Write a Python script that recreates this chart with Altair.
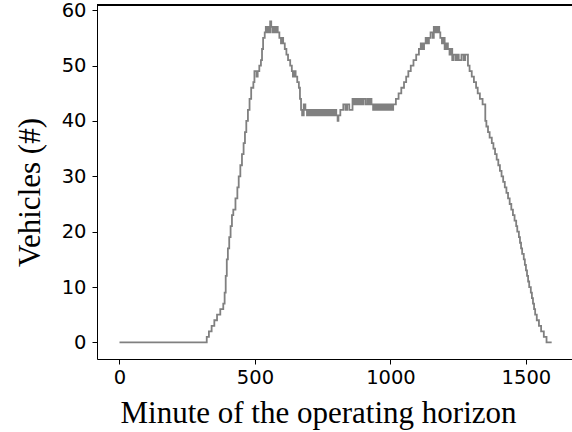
import altair as alt
import pandas as pd

# Minute at which the fleet count changes, and the count from that minute on
minutes = [
    0, 322, 330, 340, 350, 360, 372, 383, 388, 392, 396, 400, 405, 410, 415, 420,
    428, 435, 440, 446, 452, 458, 463, 468, 474, 480, 486, 494, 498, 506, 510, 516,
    522, 526, 530, 536, 540, 544, 548, 552, 556, 560, 564, 568, 574, 578, 584, 590,
    596, 600, 604, 610, 616, 622, 630, 636, 640, 646, 650, 656, 662, 666, 670, 674,
    680, 686, 692, 698, 704, 710, 716, 722, 728, 734, 740, 746, 752, 758, 764, 770,
    776, 782, 788, 794, 800, 805, 808, 815, 826, 834, 840, 848, 860, 864, 870, 876,
    880, 886, 890, 896, 900, 908, 915, 920, 925, 930, 936, 940, 946, 952, 958, 964,
    970, 976, 982, 988, 994, 1000, 1006, 1010, 1015, 1020, 1030, 1040, 1050, 1058,
    1066, 1075, 1085, 1095, 1105, 1112, 1118, 1124, 1130, 1136, 1142, 1148, 1156,
    1160, 1164, 1168, 1172, 1176, 1180, 1184, 1190, 1196, 1200, 1206, 1212, 1218,
    1224, 1228, 1232, 1240, 1246, 1252, 1256, 1262, 1270, 1276, 1280, 1286, 1292,
    1300, 1308, 1316, 1322, 1330, 1340, 1350, 1354, 1360, 1366, 1374, 1380, 1386,
    1392, 1398, 1404, 1410, 1416, 1422, 1428, 1434, 1440, 1446, 1452, 1458, 1464,
    1468, 1474, 1478, 1482, 1486, 1492, 1496, 1500, 1504, 1508, 1512, 1518, 1522,
    1526, 1530, 1534, 1540, 1548, 1556, 1566, 1576, 1595,
]
vehicles = [
    0, 1, 2, 3, 4, 5, 6, 7, 9, 12, 15, 17, 19, 21, 23, 24,
    26, 28, 30, 32, 34, 36, 38, 40, 42, 44, 46, 47, 49, 48, 49, 50,
    51, 53, 55, 56, 57, 56, 57, 56, 58, 57, 56, 57, 56, 57, 56, 55,
    54, 55, 54, 53, 52, 51, 50, 49, 48, 49, 48, 47, 46, 44, 42, 41,
    43, 42, 41, 42, 41, 42, 41, 42, 41, 42, 41, 42, 41, 42, 41, 42,
    41, 42, 41, 42, 41, 40, 41, 42, 43, 42, 43, 42, 44, 43, 44, 43,
    44, 43, 44, 43, 44, 43, 44, 43, 44, 43, 42, 43, 42, 43, 42, 43,
    42, 43, 42, 43, 42, 43, 42, 43, 43, 44, 45, 46, 47, 48,
    49, 50, 51, 52, 53, 54, 53, 54, 55, 54, 55, 56, 55,
    57, 56, 57, 56, 57, 56, 55, 54, 55, 53, 54, 53, 52,
    53, 51, 52, 51, 52, 51, 51, 52, 51, 52, 52, 50, 49,
    48, 47, 46, 45, 44, 43, 40, 39, 38, 37, 36, 35, 34,
    33, 32, 31, 30, 29, 28, 27, 26, 25, 24, 23, 22, 21,
    20, 19, 18, 17, 16, 15, 14, 13, 12, 11, 10, 9, 8,
    7, 6, 5, 4, 3, 2, 1, 0, 0,
]

x_ticks = [0, 500, 1000, 1500]
y_ticks = [0, 10, 20, 30, 40, 50, 60]

W, H = 475, 354

df = pd.DataFrame({"minute": minutes, "vehicles": vehicles})

x_enc = alt.X(
    "minute:Q",
    scale=alt.Scale(domain=[-83, 1670], nice=False, zero=False),
    axis=alt.Axis(
        values=x_ticks,
        format="d",
        title="Minute of the operating horizon",
        titleFont="Liberation Serif",
        titleFontSize=31,
        titleFontWeight="normal",
        titleColor="black",
        titleX=221,
        titleY=63,
        titleAlign="center",
        titleBaseline="alphabetic",
        labelFont="DejaVu Sans",
        labelFontSize=19.5,
        labelColor="black",
        labelPadding=4,
        tickSize=5,
        tickColor="black",
        domainColor="black",
        grid=False,
        labelFlush=False,
    ),
)

y_enc = alt.Y(
    "vehicles:Q",
    scale=alt.Scale(domain=[-3.0, 60.95], nice=False, zero=False),
    axis=alt.Axis(
        values=y_ticks,
        title="Vehicles (#)",
        titleFont="Liberation Serif",
        titleFontSize=31,
        titleFontWeight="normal",
        titleColor="black",
        titleX=-58,
        titleY=187,
        titleAngle=-90,
        titleAlign="center",
        titleBaseline="alphabetic",
        labelFont="DejaVu Sans",
        labelFontSize=19.5,
        labelColor="black",
        labelPadding=6,
        tickSize=5,
        tickColor="black",
        domainColor="black",
        grid=False,
        labelFlush=False,
    ),
)

line = alt.Chart(df).mark_line(
    interpolate="step-after", color="#808080", strokeWidth=1.8, clip=True
).encode(x=x_enc, y=y_enc)

# top edge of the frame
top_edge = alt.Chart(df).mark_rule(color="black", strokeWidth=1).encode(
    x=alt.value(0), x2=alt.value(W), y=alt.value(0)
)

chart = alt.layer(line, top_edge).properties(
    width=W,
    height=H,
    autosize=alt.AutoSizeParams(type="none"),
    padding={"left": 97, "top": 5, "right": 0, "bottom": 73},
).configure_view(stroke=None).configure(background="white")

chart.save("out.html", embed_options={"renderer": "svg", "actions": False})
